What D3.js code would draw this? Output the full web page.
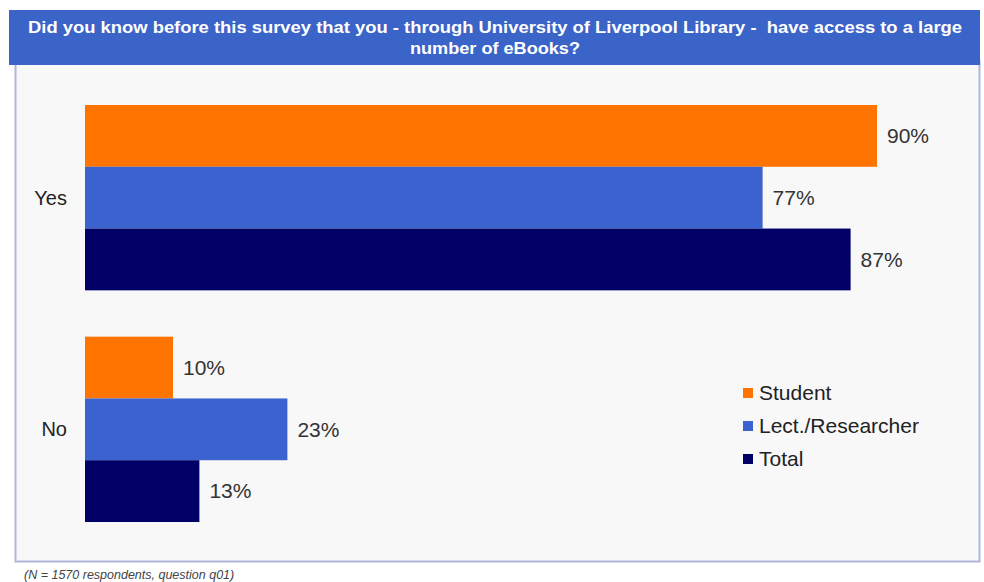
<!DOCTYPE html>
<html>
<head>
<meta charset="utf-8">
<script src="https://cdn.jsdelivr.net/npm/d3@7"></script>
<style>
  html, body { margin: 0; padding: 0; background: #ffffff; }
  svg { display: block; font-family: Arial, "Liberation Sans", sans-serif; }
</style>
</head>
<body>
<svg id="chart" width="984" height="582"></svg>
<script>
// Survey answers per respondent group (percent)
const categories = ["Yes", "No"];
const seriesNames = ["Student", "Lect./Researcher", "Total"];
const studentValues = [90, 10];
const lecturerValues = [77, 23];
const totalValues = [87, 13];
const seriesColors = ["#ff7300", "#3a63cf", "#000066"];
const titleLines = [
  "Did you know before this survey that you - through University of Liverpool Library -  have access to a large",
  "number of eBooks?"
];
const titleWidths = [934, 170];
const footnote = "(N = 1570 respondents, question q01)";

const seriesValues = [studentValues, lecturerValues, totalValues];
const svg = d3.select("#chart");

// Plot frame
svg.append("rect")
  .attr("x", 15.5).attr("y", 60.5)
  .attr("width", 964).attr("height", 501)
  .attr("fill", "#f8f8f8")
  .attr("stroke", "#aeb6dc").attr("stroke-width", 2);

// Title band
svg.append("rect")
  .attr("x", 9).attr("y", 10)
  .attr("width", 971).attr("height", 55)
  .attr("fill", "#3b64c8");

svg.append("g").selectAll("text")
  .data(titleLines)
  .join("text")
  .attr("x", 495)
  .attr("y", (d, i) => 33 + i * 21)
  .attr("text-anchor", "middle")
  .attr("fill", "#ffffff")
  .attr("font-weight", "bold")
  .attr("font-size", 16)
  .style("white-space", "pre")
  .attr("textLength", (d, i) => titleWidths[i])
  .attr("lengthAdjust", "spacingAndGlyphs")
  .text(d => d);

// Scales
const x = d3.scaleLinear().domain([0, 100]).range([85, 965]);
const y = d3.scaleBand().domain(categories).range([105, 522]).paddingInner(0.2).paddingOuter(0);
const ySeries = d3.scaleBand().domain(seriesNames).range([0, y.bandwidth()]).padding(0);

const groups = svg.append("g").selectAll("g")
  .data(categories)
  .join("g")
  .attr("transform", d => `translate(0,${y(d)})`);

groups.selectAll("rect")
  .data((c, ci) => seriesNames.map((s, si) => ({ s, si, v: seriesValues[si][ci] })))
  .join("rect")
  .attr("x", x(0))
  .attr("y", d => ySeries(d.s))
  .attr("width", d => x(d.v) - x(0))
  .attr("height", ySeries.bandwidth())
  .attr("fill", d => seriesColors[d.si]);

groups.selectAll("text.val")
  .data((c, ci) => seriesNames.map((s, si) => ({ s, si, v: seriesValues[si][ci] })))
  .join("text")
  .attr("class", "val")
  .attr("x", d => x(d.v) + 10)
  .attr("y", d => ySeries(d.s) + ySeries.bandwidth() / 2)
  .attr("dy", "0.35em")
  .attr("font-size", 21)
  .attr("fill", "#333333")
  .text(d => d.v + "%");

// Category axis labels
svg.append("g").selectAll("text")
  .data(categories)
  .join("text")
  .attr("x", 67)
  .attr("y", d => y(d) + y.bandwidth() / 2)
  .attr("dy", "0.35em")
  .attr("text-anchor", "end")
  .attr("font-size", 20)
  .attr("fill", "#222222")
  .text(d => d);

// Legend
const legend = svg.append("g").attr("transform", "translate(743,393)");
const items = legend.selectAll("g")
  .data(seriesNames)
  .join("g")
  .attr("transform", (d, i) => `translate(0,${i * 33})`);
items.append("rect")
  .attr("x", 0).attr("y", -5)
  .attr("width", 10).attr("height", 10)
  .attr("fill", (d, i) => seriesColors[i]);
items.append("text")
  .attr("x", 16).attr("y", 0)
  .attr("dy", "0.35em")
  .attr("font-size", 21)
  .attr("fill", "#222222")
  .text(d => d);

// Footnote
svg.append("text")
  .attr("x", 24).attr("y", 579)
  .attr("font-size", 12.5)
  .attr("font-style", "italic")
  .attr("fill", "#444444")
  .text(footnote);
</script>
</body>
</html>
